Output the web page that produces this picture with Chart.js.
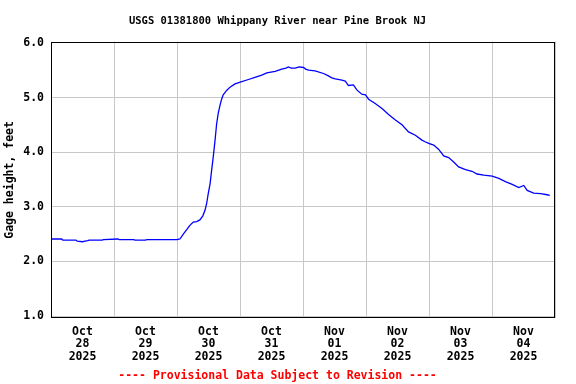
<!DOCTYPE html>
<html>
<head>
<meta charset="utf-8">
<script src="https://cdn.jsdelivr.net/npm/chart.js@4.4.0/dist/chart.umd.min.js"></script>
<style>
    body { margin: 0; background: #fff; }
</style>
</head>
<body>
<canvas id="gageChart" width="576" height="384"></canvas>
<script>
// hours since Oct 28 2025 00:00, and gage height (feet)
const hours = [
    0, 4, 4.5, 9.5, 10, 12, 13, 14, 14.5, 19.5, 20, 25.5, 26, 31.5, 32, 36, 36.5, 48,
    49.1, 50.4, 51.7, 52.9, 54.2, 55.5, 56.7, 57.8, 58.7, 59.3, 59.9, 60.6, 61.2, 61.8,
    62.5, 63.1, 63.7, 64.4, 65.0, 65.6, 66.9, 68.2, 70.1, 72.1, 75.2, 77.7, 80.3, 82.2,
    85.4, 87.9, 89.5, 90.4, 91.5, 93.0, 94.5, 96.2, 97, 98.1, 100.6, 103.8, 105.5, 107.0,
    108.3, 110.8, 112.1, 113.3, 115.2, 116.5, 118.4, 119.8, 121.0, 123.5, 126.1, 128.6,
    131.2, 133.7, 136.2, 138.8, 141.3, 142.5, 143.9, 145.8, 147.7, 149.6, 151.5, 153.4,
    155.3, 157.9, 160.4, 162.3, 164.9, 168.1, 170.6, 173.1, 175.7, 178.2, 180.1, 181.4,
    183.9, 186.5, 189.0, 190.0
];
const gageHeight = [
    2.41, 2.41, 2.39, 2.39, 2.37, 2.36, 2.37, 2.38, 2.39, 2.39, 2.40, 2.41, 2.40, 2.40, 2.39, 2.39, 2.40, 2.40,
    2.41, 2.50, 2.58, 2.66, 2.72, 2.73, 2.76, 2.83, 2.94, 3.06, 3.24, 3.42, 3.67, 3.91,
    4.22, 4.52, 4.71, 4.86, 4.97, 5.05, 5.13, 5.19, 5.25, 5.28, 5.33, 5.37, 5.41, 5.45,
    5.48, 5.52, 5.54, 5.56, 5.54, 5.54, 5.56, 5.55, 5.52, 5.50, 5.49, 5.44, 5.40, 5.36,
    5.34, 5.32, 5.30, 5.22, 5.23, 5.14, 5.06, 5.05, 4.97, 4.89, 4.80, 4.69,
    4.59, 4.50, 4.37, 4.31, 4.22, 4.19, 4.16, 4.13, 4.05, 3.93, 3.90, 3.82,
    3.73, 3.68, 3.65, 3.60, 3.58, 3.56, 3.52, 3.46, 3.41, 3.35, 3.39, 3.30,
    3.25, 3.24, 3.22, 3.21
];

const dayMonths = ['Oct', 'Oct', 'Oct', 'Oct', 'Nov', 'Nov', 'Nov', 'Nov'];
const dayNumbers = ['28', '29', '30', '31', '01', '02', '03', '04'];
const dayYears = ['2025', '2025', '2025', '2025', '2025', '2025', '2025', '2025'];
const yTicks = [1, 2, 3, 4, 5, 6];

const FONT = "'DejaVu Sans Mono', 'Liberation Mono', monospace";

// chart.js only draws left/bottom borders, so box the plot area here
const boxBorder = {
    id: 'boxBorder',
    afterDraw(chart) {
        const a = chart.chartArea;
        const ctx = chart.ctx;
        ctx.save();
        ctx.strokeStyle = '#000';
        ctx.lineWidth = 1;
        const l = Math.round(a.left) + 0.5;
        const t = Math.round(a.top) + 0.5;
        const r = Math.round(a.right) - 0.5;
        const b = Math.round(a.bottom) - 0.5;
        ctx.strokeRect(l, t, r - l, b - t);
        ctx.restore();
    }
};

const points = hours.map((h, i) => ({ x: h, y: gageHeight[i] }));

new Chart(document.getElementById('gageChart').getContext('2d'), {
    type: 'line',
    data: {
        datasets: [{
            data: points,
            borderColor: '#0000ff',
            borderWidth: 1.3,
            pointRadius: 0,
            tension: 0,
            fill: false
        }]
    },
    options: {
        responsive: false,
        animation: false,
        layout: { padding: { left: 0, right: 21, top: 0, bottom: 0 } },
        plugins: {
            legend: { display: false },
            tooltip: { enabled: false },
            title: {
                display: true,
                text: 'USGS 01381800 Whippany River near Pine Brook NJ',
                color: '#000',
                font: { family: FONT, size: 10.5, weight: 'bold' },
                padding: { top: 15, bottom: 14 }
            },
            subtitle: {
                display: true,
                position: 'bottom',
                text: '---- Provisional Data Subject to Revision ----',
                color: '#ff0000',
                font: { family: FONT, size: 11.5, weight: 'bold' },
                padding: { top: 0, bottom: 1 }
            }
        },
        scales: {
            x: {
                type: 'linear',
                min: 0,
                max: 192,
                afterBuildTicks: scale => {
                    const t = [];
                    for (let v = 0; v <= 192; v += 12) t.push({ value: v });
                    scale.ticks = t;
                },
                afterFit: scale => { scale.height = 51; },
                border: { display: false },
                grid: {
                    drawTicks: false,
                    color: ctx => (ctx.tick && ctx.tick.value % 24 === 0) ? '#c8c8c8' : 'rgba(0,0,0,0)',
                    lineWidth: 1
                },
                ticks: {
                    autoSkip: false,
                    maxRotation: 0,
                    padding: 7,
                    color: '#000',
                    font: { family: FONT, size: 11.5, weight: 'bold', lineHeight: 1.1 },
                    callback: function(value) {
                        if (value % 24 !== 12) return '';
                        const i = (value - 12) / 24;
                        return [dayMonths[i], dayNumbers[i], dayYears[i]];
                    }
                }
            },
            y: {
                min: 0.96,
                max: 6.024,
                afterBuildTicks: scale => {
                    scale.ticks = yTicks.map(v => ({ value: v }));
                },
                afterFit: scale => { scale.width = 51; },
                border: { display: false },
                grid: { drawTicks: false, color: '#c8c8c8', lineWidth: 1 },
                ticks: {
                    padding: 7,
                    color: '#000',
                    font: { family: FONT, size: 11.5, weight: 'bold' },
                    callback: value => Number(value).toFixed(1)
                },
                title: {
                    display: true,
                    text: 'Gage height, feet',
                    color: '#000',
                    font: { family: FONT, size: 11.5, weight: 'bold' },
                    padding: { top: 3, bottom: 0 }
                }
            }
        }
    },
    plugins: [boxBorder]
});
</script>
</body>
</html>
